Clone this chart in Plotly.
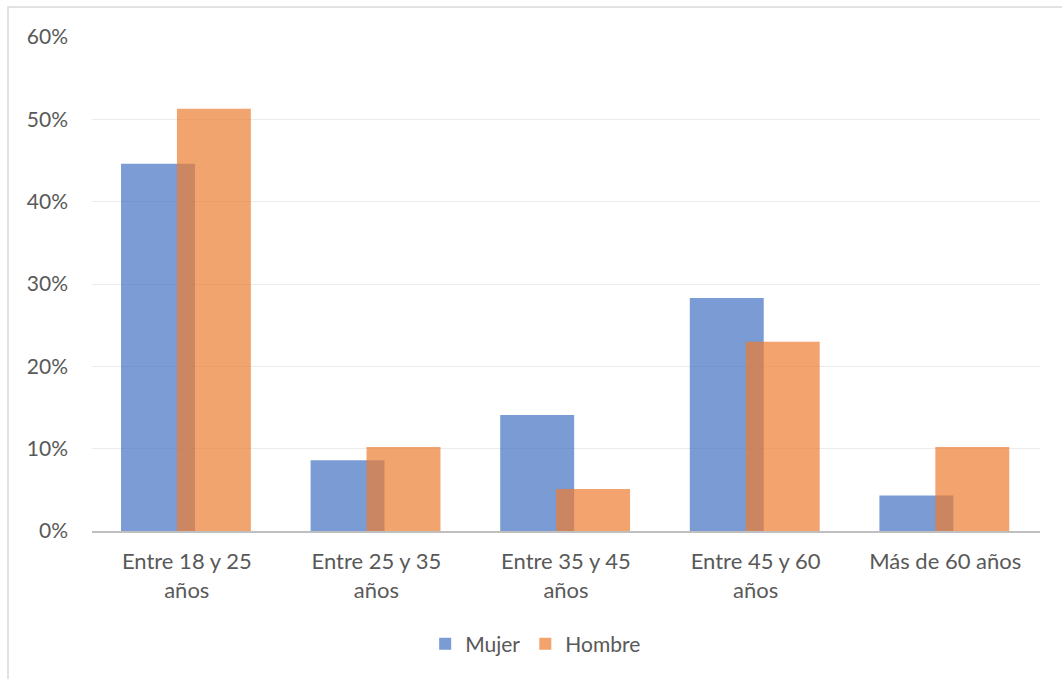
import plotly.graph_objects as go

categories = ["Entre 18 y 25<br>años", "Entre 25 y 35<br>años", "Entre 35 y 45<br>años",
              "Entre 45 y 60<br>años", "Más de 60 años"]
mujer = [0.446, 0.086, 0.141, 0.283, 0.043]
hombre = [0.513, 0.102, 0.051, 0.230, 0.102]
y_ticks = [0, 0.1, 0.2, 0.3, 0.4, 0.5, 0.6]
y_tick_labels = ["0%", "10%", "20%", "30%", "40%", "50%", "60%"]

FONT = "Lato, 'Open Sans', sans-serif"
TEXT = "#595959"

fig = go.Figure()
fig.add_trace(go.Bar(
    name="Mujer", x=categories, y=mujer,
    width=0.39, offset=-0.347,
    marker=dict(color="#4472C4", line=dict(width=0)), opacity=0.7,
))
fig.add_trace(go.Bar(
    name="Hombre", x=categories, y=hombre,
    width=0.39, offset=-0.052,
    marker=dict(color="#ED7D31", line=dict(width=0)), opacity=0.7,
))

fig.update_layout(
    width=1062, height=679,
    barmode="overlay",
    paper_bgcolor="white", plot_bgcolor="white",
    margin=dict(l=92, r=22, t=37, b=148),
    font=dict(family=FONT, size=20, color=TEXT),
    showlegend=True,
    legend=dict(orientation="h", x=0.468, xanchor="center", y=-0.229, yanchor="middle",
                font=dict(size=21, color=TEXT), itemsizing="constant", traceorder="normal",
                itemwidth=30, tracegroupgap=0),
    xaxis=dict(showline=True, linecolor="#BFBFBF", linewidth=2, ticks="",
               tickfont=dict(size=22, color=TEXT), showgrid=False, zeroline=False,
               range=[-0.5, 4.5], ticklabelstandoff=10),
    yaxis=dict(range=[0, 0.6], tickvals=y_ticks, ticktext=y_tick_labels,
               showgrid=True, gridcolor="#EBEBEB", gridwidth=1.2, zeroline=False,
               showline=False, ticks="", ticklabelstandoff=23,
               tickfont=dict(size=21, color=TEXT)),
    shapes=[dict(type="rect", xref="paper", yref="paper",
                 x0=-0.0886, x1=1.2, y0=-0.5, y1=1.0607,
                 line=dict(color="#D9D9D9", width=1.5), fillcolor="rgba(0,0,0,0)",
                 layer="below")],
)

fig.write_html("out.html")
